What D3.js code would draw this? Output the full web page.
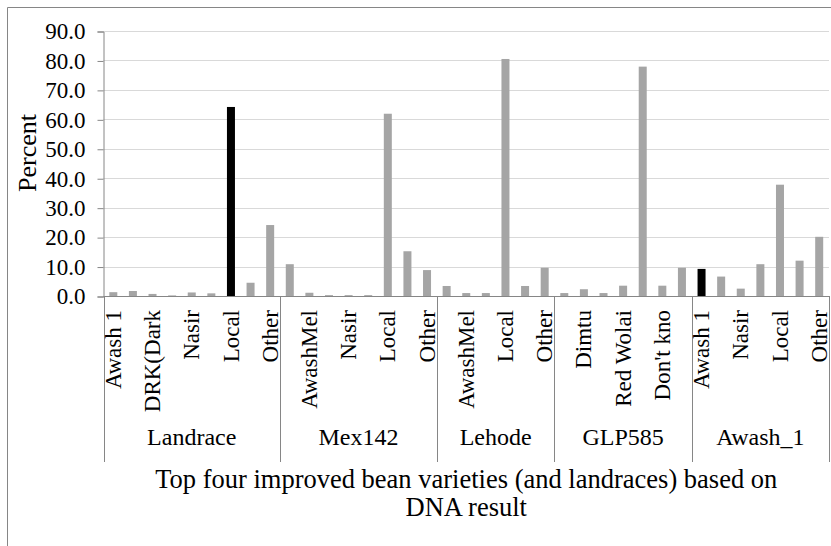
<!DOCTYPE html>
<html>
<head>
<meta charset="utf-8">
<script src="https://cdn.jsdelivr.net/npm/d3@7"></script>
<style>
  html, body { margin: 0; padding: 0; background: #fff; }
  svg { display: block; }
</style>
</head>
<body>
<svg id="chart" width="831" height="546"></svg>
<script>
// ---- data ----
const groups = ["Landrace", "Mex142", "Lehode", "GLP585", "Awash_1"];
const landraceCats = ["Awash 1", "AwashMel", "DRK(Dark", "Mex142", "Nasir", "Red Wolai", "Local", "Don't kno", "Other"];
const landraceVals = [1.3, 1.7, 0.7, 0.2, 1.2, 0.9, 64.2, 4.5, 24.1];
const mex142Cats = ["Awash 1", "AwashMel", "DRK(Dark", "Nasir", "Red Wolai", "Local", "Don't kno", "Other"];
const mex142Vals = [10.8, 1.1, 0.3, 0.3, 0.3, 61.9, 15.2, 8.8];
const lehodeCats = ["Awash 1", "AwashMel", "Nasir", "Local", "Don't kno", "Other"];
const lehodeVals = [3.4, 1.0, 1.0, 80.5, 3.4, 9.6];
const glp585Cats = ["Awash 1", "Dimtu", "Nasir", "Red Wolai", "Local", "Don't kno", "Other"];
const glp585Vals = [1.0, 2.3, 1.0, 3.5, 77.9, 3.5, 9.6];
const awash1Cats = ["Awash 1", "AwashMel", "Nasir", "Red Wolai", "Local", "Don't kno", "Other"];
const awash1Vals = [9.2, 6.6, 2.5, 10.8, 37.8, 12.0, 20.1];
const highlighted = [["Landrace", "Local"], ["Awash_1", "Awash 1"]];
const yTicks = [0, 10, 20, 30, 40, 50, 60, 70, 80, 90];
const yTitle = "Percent";
const xTitle = ["Top four improved bean varieties (and landraces) based on", "DNA result"];

const groupCats = [landraceCats, mex142Cats, lehodeCats, glp585Cats, awash1Cats];
const groupVals = [landraceVals, mex142Vals, lehodeVals, glp585Vals, awash1Vals];

const rows = [];
groups.forEach((g, gi) => {
  groupCats[gi].forEach((c, ci) => {
    rows.push({ group: g, cat: c, value: groupVals[gi][ci], key: g + "|" + c,
      hi: highlighted.some(h => h[0] === g && h[1] === c) });
  });
});

// ---- layout ----
const FONT = "'Liberation Serif', 'Times New Roman', Times, serif";
const svg = d3.select("#chart");
const pLeft = 103.5, pRight = 829, pTop = 31, pBottom = 296;

const x = d3.scaleBand().domain(rows.map(d => d.key)).range([pLeft, pRight])
  .paddingInner(0.59).paddingOuter(0.295);
const y = d3.scaleLinear().domain([0, 90]).range([pBottom, pTop]);

// chart border (left + top)
svg.append("line").attr("x1", 7.5).attr("x2", 7.5).attr("y1", 7.5).attr("y2", 546)
  .attr("stroke", "#868686").attr("stroke-width", 1);
svg.append("line").attr("x1", 7.5).attr("x2", 831).attr("y1", 7.5).attr("y2", 7.5)
  .attr("stroke", "#868686").attr("stroke-width", 1);

// gridlines
svg.append("g").selectAll("line").data(yTicks.filter(t => t > 0)).join("line")
  .attr("x1", pLeft).attr("x2", pRight)
  .attr("y1", d => Math.round(y(d)) + 0.5).attr("y2", d => Math.round(y(d)) + 0.5)
  .attr("stroke", "#d9d9d9").attr("stroke-width", 1);

// y axis
const yAxis = d3.axisLeft(y).tickValues(yTicks).tickFormat(d3.format(".1f")).tickSize(6).tickPadding(12);
const yg = svg.append("g").attr("transform", `translate(${pLeft},0.5)`).call(yAxis)
  .attr("font-family", null).attr("font-size", null);
yg.select(".domain").attr("stroke", "#868686");
yg.selectAll(".tick line").attr("stroke", "#868686");
yg.selectAll(".tick text").style("font-family", FONT)
  .style("font-size", "23px").attr("fill", "#000");

// bars
const bw = 8;
svg.append("g").selectAll("rect").data(rows).join("rect")
  .attr("x", d => x(d.key) + x.bandwidth() / 2 - bw / 2)
  .attr("width", bw)
  .attr("y", d => y(d.value))
  .attr("height", d => y(0) - y(d.value))
  .attr("fill", d => d.hi ? "#000000" : "#a5a5a5");

// x axis baseline
svg.append("line").attr("x1", pLeft).attr("x2", pRight).attr("y1", pBottom + 0.5).attr("y2", pBottom + 0.5)
  .attr("stroke", "#868686");

// group boundaries and group labels
const half = (x.step() - x.bandwidth()) / 2;
const bounds = [pLeft];
let idx = 0;
groups.forEach((g, gi) => {
  const first = rows[idx];
  idx += groupCats[gi].length;
  const last = rows[idx - 1];
  const x0 = x(first.key) - half;
  const x1 = x(last.key) + x.bandwidth() + half;
  bounds.push(x1);
  svg.append("text").attr("x", (x0 + x1) / 2).attr("y", 437).attr("text-anchor", "middle")
    .attr("dominant-baseline", "central").style("font-family", FONT)
    .style("font-size", "24px").text(g);
});
svg.append("g").selectAll("line").data(bounds).join("line")
  .attr("x1", d => Math.round(d) + 0.5).attr("x2", d => Math.round(d) + 0.5)
  .attr("y1", pBottom).attr("y2", 462)
  .attr("stroke", "#868686");

// category labels (every other one shown, as in the original)
svg.append("g").selectAll("text").data(rows.filter((d, i) => i % 2 === 0)).join("text")
  .attr("transform", d => `translate(${x(d.key) + x.bandwidth() / 2},310) rotate(-90)`)
  .attr("text-anchor", "end").attr("dy", "0.33em")
  .style("font-family", FONT).style("font-size", "23px").text(d => d.cat);

// axis titles
svg.append("text").attr("transform", "translate(27,153) rotate(-90)")
  .attr("text-anchor", "middle").attr("dominant-baseline", "central")
  .style("font-family", FONT).style("font-size", "26px").text(yTitle);
svg.append("g").selectAll("text").data(xTitle).join("text")
  .attr("x", (pLeft + pRight) / 2).attr("y", (d, i) => 479 + i * 28)
  .attr("text-anchor", "middle").attr("dominant-baseline", "central")
  .style("font-family", FONT).style("font-size", "26.5px").text(d => d);
</script>
</body>
</html>
